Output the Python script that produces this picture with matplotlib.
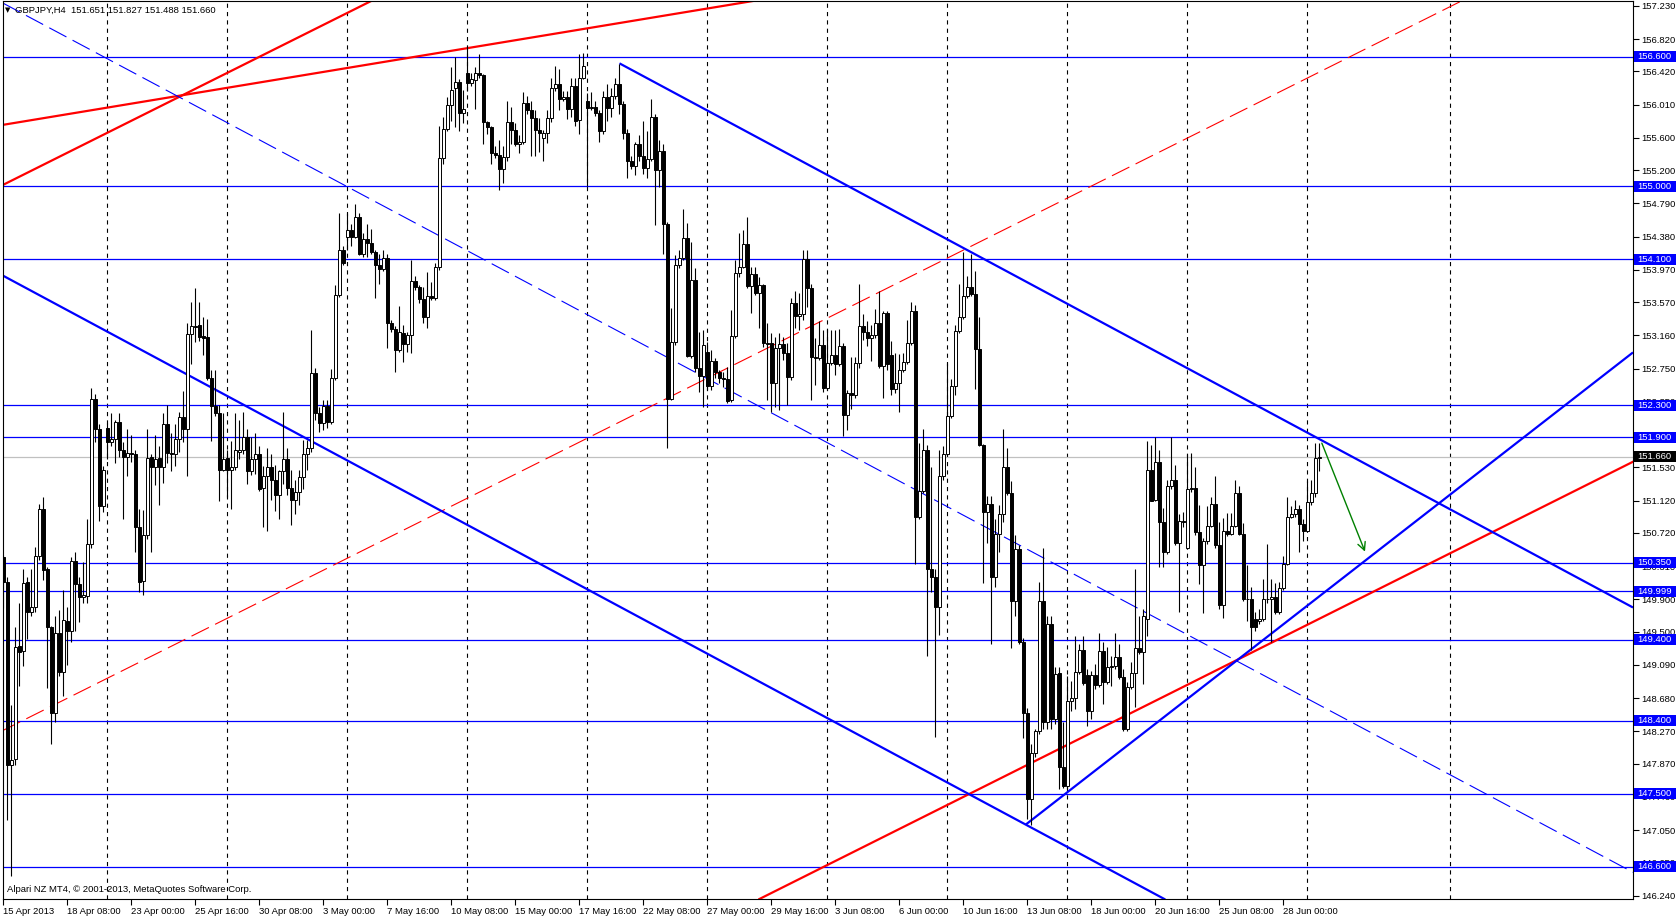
# -*- coding: utf-8 -*-
# GBPJPY H4 chart, MT4 style

import numpy as np
import matplotlib
matplotlib.use('Agg')
import matplotlib.pyplot as plt
import matplotlib.transforms as mtransforms
from matplotlib.patches import Rectangle

plt.rcParams['font.family'] = ['Liberation Sans', 'DejaVu Sans']
plt.rcParams['lines.scale_dashes'] = False

symbol = 'GBPJPY,H4'

# H4 bars
opens = [
    150.42, 150.12, 147.86, 147.93, 149.32, 149.26, 150.11, 149.75, 149.80, 150.43,
    151.02, 150.27, 149.56, 148.50, 149.48, 149.00, 149.63, 149.51, 150.37, 150.09,
    149.93, 149.94, 150.59, 152.38, 152.00, 151.05, 152.02, 151.84, 151.88, 152.09,
    151.74, 151.66, 151.71, 151.70, 150.79, 150.13, 150.69, 151.66, 151.53, 151.65,
    151.53, 152.07, 151.71, 151.70, 151.88, 152.15, 152.01, 153.18, 153.28, 153.29,
    153.15, 153.14, 152.64, 152.29, 152.20, 151.50, 151.65, 151.50, 151.54, 151.72,
    151.74, 151.90, 151.48, 151.63, 151.69, 151.27, 151.42, 151.53, 151.38, 151.19,
    151.48, 151.63, 151.28, 151.13, 151.23, 151.41, 151.69, 151.77, 152.70, 152.20,
    152.08, 152.29, 152.09, 152.64, 153.66, 154.22, 154.37, 154.46, 154.37, 154.62,
    154.17, 154.35, 154.30, 154.19, 154.03, 153.98, 154.11, 153.31, 153.24, 152.98,
    153.19, 153.05, 153.16, 153.83, 153.76, 153.61, 153.39, 153.65, 153.62, 154.00,
    155.35, 155.71, 156.00, 156.22, 156.29, 155.91, 156.40, 156.28, 156.32, 156.40,
    156.38, 155.79, 155.74, 155.41, 155.39, 155.22, 155.36, 155.80, 155.70, 155.53,
    155.55, 156.03, 155.94, 155.85, 155.70, 155.60, 155.66, 155.85, 156.21, 156.27,
    156.08, 156.11, 155.96, 156.24, 155.82, 156.34, 156.06, 155.97, 155.98, 155.91,
    155.68, 156.11, 155.97, 156.12, 156.26, 156.02, 155.66, 155.31, 155.25, 155.53,
    155.38, 155.23, 155.34, 155.86, 155.20, 155.44, 154.54, 152.38, 153.08, 154.03,
    154.11, 154.36, 152.91, 153.84, 152.76, 152.66, 152.96, 152.54, 152.85, 152.71,
    152.64, 152.62, 152.36, 153.15, 153.93, 154.01, 154.29, 153.77, 153.92, 153.69,
    153.78, 153.05, 153.07, 152.57, 153.00, 153.05, 152.94, 152.65, 153.56, 153.40,
    153.42, 154.10, 153.74, 152.89, 152.88, 153.04, 152.51, 152.82, 152.92, 152.81,
    153.03, 152.18, 152.45, 152.42, 152.82, 153.28, 153.20, 153.13, 153.17, 153.31,
    152.78, 153.44, 152.92, 152.50, 152.57, 152.73, 152.83, 153.07, 153.46, 150.92,
    151.24, 151.75, 150.27, 150.18, 149.81, 151.42, 151.70, 152.17, 152.54, 153.21,
    153.39, 153.65, 153.76, 153.67, 152.99, 151.81, 150.98, 151.08, 150.18, 150.71,
    150.96, 151.54, 151.22, 149.88, 150.52, 149.37, 148.50, 147.44, 148.00, 148.27,
    149.88, 148.39, 149.59, 148.42, 148.99, 147.83, 147.60, 148.65, 148.68, 149.00,
    149.27, 148.97, 148.52, 148.97, 148.84, 149.26, 148.88, 149.06, 149.08, 149.19,
    148.94, 148.30, 148.82, 148.99, 149.30, 149.25, 149.66, 151.50, 151.13, 151.60,
    150.85, 150.48, 151.30, 151.38, 150.60, 150.87, 150.54, 151.26, 151.27, 150.73,
    150.33, 150.62, 150.81, 151.08, 150.57, 149.83, 150.74, 150.71, 150.81, 151.21,
    150.71, 149.91, 149.90, 149.66, 149.63, 149.66, 149.90, 149.91, 149.93, 149.74,
    150.04, 150.34, 150.92, 150.95, 151.02, 150.83, 150.74, 151.10, 151.22, 151.651,
]
highs = [
    150.45, 150.18, 148.60, 149.56, 149.86, 150.28, 150.18, 150.28, 150.55, 151.08,
    151.16, 150.30, 149.57, 149.69, 149.77, 150.02, 149.80, 150.42, 150.48, 150.18,
    150.36, 150.89, 152.51, 152.44, 152.06, 151.55, 152.08, 152.20, 152.12, 152.20,
    151.84, 152.01, 151.93, 151.75, 151.02, 151.00, 152.01, 151.69, 151.93, 151.79,
    152.20, 152.30, 151.95, 152.06, 152.22, 152.47, 153.31, 153.57, 153.74, 153.57,
    153.39, 153.36, 152.73, 152.73, 152.30, 152.20, 151.75, 151.85, 152.20, 152.11,
    152.22, 152.00, 151.90, 151.96, 151.80, 151.55, 151.77, 151.69, 151.56, 151.50,
    152.22, 151.77, 151.50, 151.38, 151.50, 151.87, 151.87, 153.23, 152.76, 152.27,
    152.36, 152.36, 152.75, 153.78, 154.67, 154.26, 154.67, 154.54, 154.78, 154.67,
    154.43, 154.54, 154.47, 154.22, 154.17, 154.22, 154.17, 153.35, 153.28, 153.52,
    153.29, 153.20, 154.09, 153.90, 153.78, 153.76, 153.94, 153.82, 154.05, 155.75,
    155.86, 156.10, 156.48, 156.60, 156.33, 156.19, 156.74, 156.40, 156.47, 156.64,
    156.39, 155.81, 155.75, 155.50, 155.57, 155.50, 156.05, 155.98, 155.78, 155.64,
    156.17, 156.12, 156.06, 155.94, 155.84, 155.70, 155.94, 156.34, 156.49, 156.45,
    156.18, 156.18, 156.34, 156.34, 156.64, 156.65, 156.16, 156.17, 156.06, 155.94,
    156.18, 156.27, 156.22, 156.34, 156.51, 156.06, 155.71, 155.38, 155.55, 155.63,
    155.81, 155.69, 156.08, 155.90, 155.57, 155.53, 154.56, 153.50, 154.15, 154.21,
    154.72, 154.55, 154.31, 153.99, 153.20, 153.23, 153.08, 152.98, 152.88, 152.73,
    152.71, 152.77, 153.48, 154.09, 154.43, 154.46, 154.62, 154.00, 154.00, 153.88,
    153.80, 153.31, 153.19, 153.14, 153.19, 153.14, 153.07, 153.62, 153.71, 153.69,
    154.21, 154.21, 153.80, 153.13, 153.34, 153.23, 153.24, 153.23, 153.23, 153.24,
    153.07, 152.49, 152.89, 152.89, 153.79, 153.42, 153.34, 153.29, 153.49, 153.71,
    153.46, 153.46, 153.09, 152.94, 152.93, 152.94, 153.35, 153.57, 153.53, 151.83,
    152.01, 151.81, 151.53, 150.27, 151.75, 151.80, 152.82, 152.62, 153.29, 153.80,
    154.19, 153.89, 154.17, 153.95, 153.39, 151.82, 151.18, 151.18, 150.89, 151.06,
    152.01, 151.77, 151.36, 150.69, 150.57, 149.42, 148.56, 148.12, 148.30, 150.11,
    150.54, 149.70, 149.70, 149.06, 149.06, 148.39, 148.95, 148.89, 149.45, 149.35,
    149.45, 149.04, 149.02, 149.10, 149.49, 149.37, 149.31, 149.20, 149.49, 149.35,
    149.04, 148.88, 149.13, 150.28, 149.69, 149.78, 151.85, 151.81, 151.91, 151.75,
    151.03, 151.37, 151.91, 151.56, 150.95, 150.98, 151.69, 151.71, 151.54, 151.06,
    150.66, 151.05, 151.17, 151.42, 150.85, 150.90, 150.97, 150.97, 151.37, 151.30,
    150.84, 150.33, 150.05, 149.75, 149.78, 150.15, 150.58, 150.15, 150.10, 150.12,
    150.44, 151.16, 151.05, 151.13, 151.07, 150.89, 151.36, 151.38, 151.83, 151.827,
]
lows = [
    149.79, 147.17, 146.48, 147.86, 148.83, 149.08, 149.41, 149.69, 149.75, 150.39,
    150.14, 148.80, 148.12, 148.39, 148.95, 148.71, 149.09, 149.38, 149.51, 149.62,
    149.86, 149.85, 150.54, 151.84, 150.87, 150.98, 151.63, 151.79, 151.59, 151.66,
    150.89, 151.43, 151.60, 150.48, 149.99, 149.96, 150.64, 150.48, 151.31, 151.07,
    151.34, 151.59, 151.49, 151.55, 151.72, 151.84, 151.42, 152.81, 153.08, 153.09,
    152.92, 152.61, 151.86, 152.17, 151.12, 151.48, 151.17, 151.02, 151.50, 151.63,
    151.69, 151.32, 151.44, 151.45, 151.24, 150.79, 150.74, 151.13, 150.99, 150.89,
    151.32, 151.19, 150.82, 150.95, 151.07, 151.26, 151.50, 151.72, 152.12, 151.97,
    151.99, 152.02, 152.06, 152.61, 153.63, 154.03, 154.21, 154.27, 154.36, 154.15,
    154.13, 154.13, 154.16, 153.62, 153.80, 153.95, 153.00, 153.20, 152.71, 152.95,
    152.83, 152.95, 152.94, 153.72, 153.56, 153.31, 153.25, 153.60, 153.60, 153.97,
    155.28, 155.68, 155.81, 155.73, 155.69, 155.78, 156.18, 156.24, 155.96, 156.34,
    155.53, 155.65, 155.28, 155.35, 154.96, 155.04, 155.32, 155.53, 155.50, 155.41,
    155.53, 155.90, 155.37, 155.37, 155.42, 155.32, 155.54, 155.79, 156.18, 155.94,
    156.06, 155.83, 155.86, 155.75, 155.65, 156.33, 155.01, 155.94, 155.87, 155.55,
    155.65, 155.81, 155.86, 156.08, 155.90, 155.58, 155.11, 155.21, 155.14, 155.32,
    155.15, 155.10, 155.32, 154.52, 154.99, 154.17, 151.77, 152.36, 153.04, 153.99,
    154.09, 152.89, 152.88, 152.71, 152.46, 152.27, 152.49, 152.49, 152.63, 152.57,
    152.52, 152.33, 152.34, 153.13, 153.88, 153.99, 153.74, 153.44, 153.66, 153.25,
    153.02, 152.36, 152.22, 152.28, 152.24, 152.86, 152.30, 152.61, 153.25, 153.23,
    153.35, 153.51, 152.36, 152.55, 152.86, 152.46, 152.49, 152.79, 152.67, 152.78,
    151.92, 151.99, 152.25, 152.39, 152.76, 153.10, 153.03, 152.84, 153.13, 152.76,
    152.39, 152.73, 152.42, 152.45, 152.22, 152.71, 152.81, 153.04, 150.34, 150.89,
    151.22, 149.20, 149.99, 148.20, 149.46, 151.38, 151.67, 152.14, 152.42, 153.19,
    153.36, 153.62, 153.65, 152.50, 151.80, 150.10, 150.60, 149.35, 150.05, 150.49,
    150.85, 151.19, 149.30, 149.70, 149.35, 148.19, 147.19, 147.12, 147.95, 148.24,
    148.30, 148.30, 148.30, 148.36, 147.56, 147.57, 147.56, 148.52, 148.55, 148.98,
    148.84, 148.34, 148.42, 148.79, 148.82, 148.61, 148.85, 148.83, 149.04, 148.92,
    148.28, 148.28, 148.79, 148.57, 149.22, 148.85, 149.45, 151.11, 151.11, 150.30,
    150.30, 150.46, 151.26, 150.57, 149.75, 150.80, 150.52, 151.23, 150.70, 150.09,
    149.73, 150.58, 150.79, 150.54, 149.78, 149.67, 150.68, 150.69, 150.79, 150.69,
    149.88, 149.63, 149.27, 149.51, 149.59, 149.63, 149.86, 149.37, 149.72, 149.72,
    150.01, 150.32, 150.90, 150.92, 150.49, 150.62, 150.74, 151.07, 151.16, 151.488,
]
closes = [
    150.12, 147.85, 147.92, 149.31, 149.25, 150.10, 149.74, 149.80, 150.43, 151.02,
    150.26, 149.56, 148.50, 149.48, 149.00, 149.64, 149.51, 150.38, 150.09, 149.93,
    149.95, 150.59, 152.38, 152.01, 151.05, 151.50, 151.84, 151.88, 152.09, 151.74,
    151.66, 151.71, 151.70, 150.79, 150.12, 150.69, 151.65, 151.53, 151.64, 151.53,
    152.07, 151.71, 151.70, 151.88, 152.15, 152.00, 153.18, 153.28, 153.26, 153.14,
    153.13, 152.64, 152.29, 152.20, 151.50, 151.64, 151.50, 151.54, 151.74, 151.74,
    151.90, 151.48, 151.63, 151.69, 151.26, 151.42, 151.53, 151.38, 151.19, 151.48,
    151.63, 151.28, 151.13, 151.23, 151.41, 151.69, 151.77, 152.70, 152.20, 152.08,
    152.29, 152.09, 152.64, 153.66, 154.22, 154.06, 154.46, 154.37, 154.62, 154.17,
    154.35, 154.30, 154.19, 154.03, 153.98, 154.11, 153.31, 153.24, 152.98, 153.20,
    153.05, 153.16, 153.83, 153.76, 153.61, 153.39, 153.65, 153.62, 154.00, 155.35,
    155.71, 156.00, 156.19, 156.29, 155.91, 155.96, 156.28, 156.33, 156.40, 156.38,
    155.79, 155.74, 155.41, 155.39, 155.22, 155.36, 155.80, 155.70, 155.53, 155.55,
    156.03, 155.94, 155.85, 155.70, 155.66, 155.66, 155.85, 156.21, 156.27, 156.08,
    156.11, 155.96, 156.24, 155.81, 156.34, 156.49, 155.97, 155.98, 155.91, 155.68,
    156.11, 155.97, 156.12, 156.26, 156.02, 155.66, 155.31, 155.25, 155.53, 155.38,
    155.23, 155.34, 155.86, 155.20, 155.44, 154.54, 152.38, 153.08, 154.03, 154.11,
    154.36, 152.91, 153.84, 152.76, 152.66, 153.04, 152.54, 152.85, 152.71, 152.64,
    152.62, 152.35, 153.15, 153.93, 154.01, 154.29, 153.77, 153.92, 153.69, 153.78,
    153.07, 153.07, 152.57, 153.00, 153.05, 152.94, 152.65, 153.56, 153.40, 153.42,
    154.10, 153.74, 152.89, 152.88, 153.04, 152.51, 152.82, 152.92, 152.81, 153.03,
    152.18, 152.45, 152.42, 152.82, 153.28, 153.20, 153.13, 153.17, 153.31, 152.78,
    153.44, 152.81, 152.50, 152.57, 152.73, 152.83, 153.07, 153.46, 150.92, 151.24,
    151.75, 150.27, 150.18, 149.81, 151.42, 151.70, 152.17, 152.54, 153.21, 153.39,
    153.65, 153.76, 153.67, 152.99, 151.81, 150.98, 151.08, 150.18, 150.71, 150.96,
    151.54, 151.22, 149.88, 150.52, 149.37, 148.50, 147.44, 148.00, 148.27, 149.88,
    148.39, 149.59, 148.42, 148.98, 147.83, 147.60, 148.65, 148.68, 149.00, 149.27,
    148.87, 148.52, 148.97, 148.84, 149.26, 148.88, 149.06, 149.08, 149.19, 148.94,
    148.30, 148.82, 148.99, 149.30, 149.25, 149.69, 151.50, 151.12, 151.60, 150.85,
    150.48, 151.30, 151.38, 150.60, 150.87, 150.85, 151.26, 151.27, 150.73, 150.33,
    150.62, 150.81, 151.08, 150.57, 149.83, 150.74, 150.71, 150.81, 151.21, 150.71,
    149.91, 149.90, 149.56, 149.56, 149.66, 149.90, 149.91, 149.93, 149.74, 150.04,
    150.34, 150.92, 150.95, 151.02, 150.83, 150.74, 151.10, 151.22, 151.65, 151.660,
]

# time axis labels, every 16 bars
time_labels = ['15 Apr 2013', '18 Apr 08:00', '23 Apr 00:00', '25 Apr 16:00', '30 Apr 08:00',
               '3 May 00:00', '7 May 16:00', '10 May 08:00', '15 May 00:00', '17 May 16:00',
               '22 May 08:00', '27 May 00:00', '29 May 16:00', '3 Jun 08:00', '6 Jun 00:00',
               '10 Jun 16:00', '13 Jun 08:00', '18 Jun 00:00', '20 Jun 16:00', '25 Jun 08:00',
               '28 Jun 00:00']
week_starts = [26, 56, 86, 116, 146, 176, 206, 236, 266, 296, 326, 361.7]

price_ticks = [146.240, 146.650, 147.050, 147.460, 147.870, 148.270, 148.680, 149.090,
               149.500, 149.900, 150.310, 150.720, 151.120, 151.530, 151.940, 152.350,
               152.750, 153.160, 153.570, 153.970, 154.380, 154.790, 155.200, 155.600,
               156.010, 156.420, 156.820, 157.230]

# horizontal support / resistance levels
levels = [156.600, 155.000, 154.100, 152.300, 151.900, 150.350, 149.999,
          149.400, 148.400, 147.500, 146.600]

# trend lines as two anchor points (bar, price)
red_lines = [((-0.9, 155.00), (90.7, 157.26)),
             ((-0.2, 155.76), (180.0, 157.23)),
             ((189.4, 146.21), (407.4, 151.60))]
red_dashed = ((-0.2, 148.28), (262.9, 154.78))
blue_dashed = ((0.4, 157.25), (394.1, 146.88))
blue_lower = ((-0.2, 153.90), (224.6, 147.94))
blue_upper = ((154.0, 156.52), (407.4, 149.80))
blue_rising = ((255.6, 147.12), (407.4, 152.95))
arrow_from = (329.6, 151.83)
arrow_to = (340.4, 150.49)

BLUE = '#0000FF'
RED = '#FF0000'

o = np.array(opens)
h = np.array(highs)
l = np.array(lows)
c = np.array(closes)
x = np.arange(len(c))

W, H = 1676, 917
fig = plt.figure(figsize=(W / 100, H / 100), dpi=100)
ax = fig.add_axes([2.7 / W, 1 - 899 / H, (1633 - 2.7) / W, 898 / H])
ax.set_xlim(-0.2, 407.4)
ax.set_ylim(146.20, 157.29)

# grid
for g in week_starts:
    ax.axvline(g, color='black', lw=0.8, ls=(0, (3, 3)), zorder=0.5)

# levels
for lv in levels:
    ax.axhline(lv, color=BLUE, lw=0.9, zorder=1)
ax.axhline(c[-1], color='#C0C0C0', lw=0.9, zorder=1)

# trend lines
for p1, p2 in red_lines:
    ax.axline(p1, p2, color=RED, lw=1.6, zorder=2)
ax.axline(*red_dashed, color=RED, lw=0.8, ls=(0, (14, 5)), zorder=2)
ax.axline(*blue_dashed, color=BLUE, lw=0.8, ls=(0, (14, 5)), zorder=2)
ax.axline(*blue_lower, color=BLUE, lw=1.6, zorder=2)
for p1, p2 in [blue_upper, blue_rising]:
    ax.plot([p1[0], p2[0]], [p1[1], p2[1]], color=BLUE, lw=1.6, zorder=2,
            solid_capstyle='butt')

# candles
ax.vlines(x, l, h, color='black', lw=0.8, zorder=3)
body = np.maximum(np.abs(c - o), 0.004)
fills = ['white' if cc >= oo else 'black' for oo, cc in zip(o, c)]
ax.bar(x, body, bottom=np.minimum(o, c), width=0.6, color=fills,
       edgecolor='black', linewidth=0.7, zorder=4)

ax.annotate('', xy=arrow_to, xytext=arrow_from,
            arrowprops=dict(arrowstyle='->', color='#008000', lw=1.0,
                            mutation_scale=14, shrinkA=0, shrinkB=0), zorder=5)

# axes cosmetics
for s in ax.spines.values():
    s.set_color('black')
    s.set_linewidth(0.8)
ax.yaxis.tick_right()
ax.set_yticks(price_ticks)
ax.set_yticklabels([f'{t:.3f}' for t in price_ticks])
ax.tick_params(axis='y', direction='out', length=4, width=0.8, labelsize=6.8, pad=2)
ax.set_xticks(np.arange(len(time_labels)) * 16)
ax.set_xticklabels(time_labels)
ax.tick_params(axis='x', direction='out', length=4, width=0.8, labelsize=6.8, pad=2)
for lbl in ax.get_xticklabels():
    lbl.set_horizontalalignment('left')

# price boxes on the right scale
bt = mtransforms.blended_transform_factory(fig.transFigure, ax.transData)
box_h = 11 / 81.0
for lv, fc, val in [(lv, BLUE, lv) for lv in levels] + [(c[-1], 'black', c[-1])]:
    ax.add_patch(Rectangle((1634 / W, lv - box_h / 2), 42 / W, box_h, transform=bt,
                           facecolor=fc, edgecolor='none', clip_on=False, zorder=6))
    ax.text(1637 / W, lv, f'{val:.3f}', transform=bt, color='white', fontsize=6.8,
            va='center', ha='left', clip_on=False, zorder=7)

# header and copyright
fig.text(8 / W, 1 - 10 / H, '▼', fontsize=5, va='center', ha='center',
         family='DejaVu Sans')
fig.text(15 / W, 1 - 10 / H,
         f'{symbol}  {o[-1]:.3f} {h[-1]:.3f} {l[-1]:.3f} {c[-1]:.3f}',
         fontsize=6.8, va='center', ha='left')
fig.text(7 / W, 1 - 890 / H, 'Alpari NZ MT4, © 2001-2013, MetaQuotes Software Corp.',
         fontsize=6.8, va='center', ha='left')

fig.savefig('out.png', dpi=100, facecolor='white')
